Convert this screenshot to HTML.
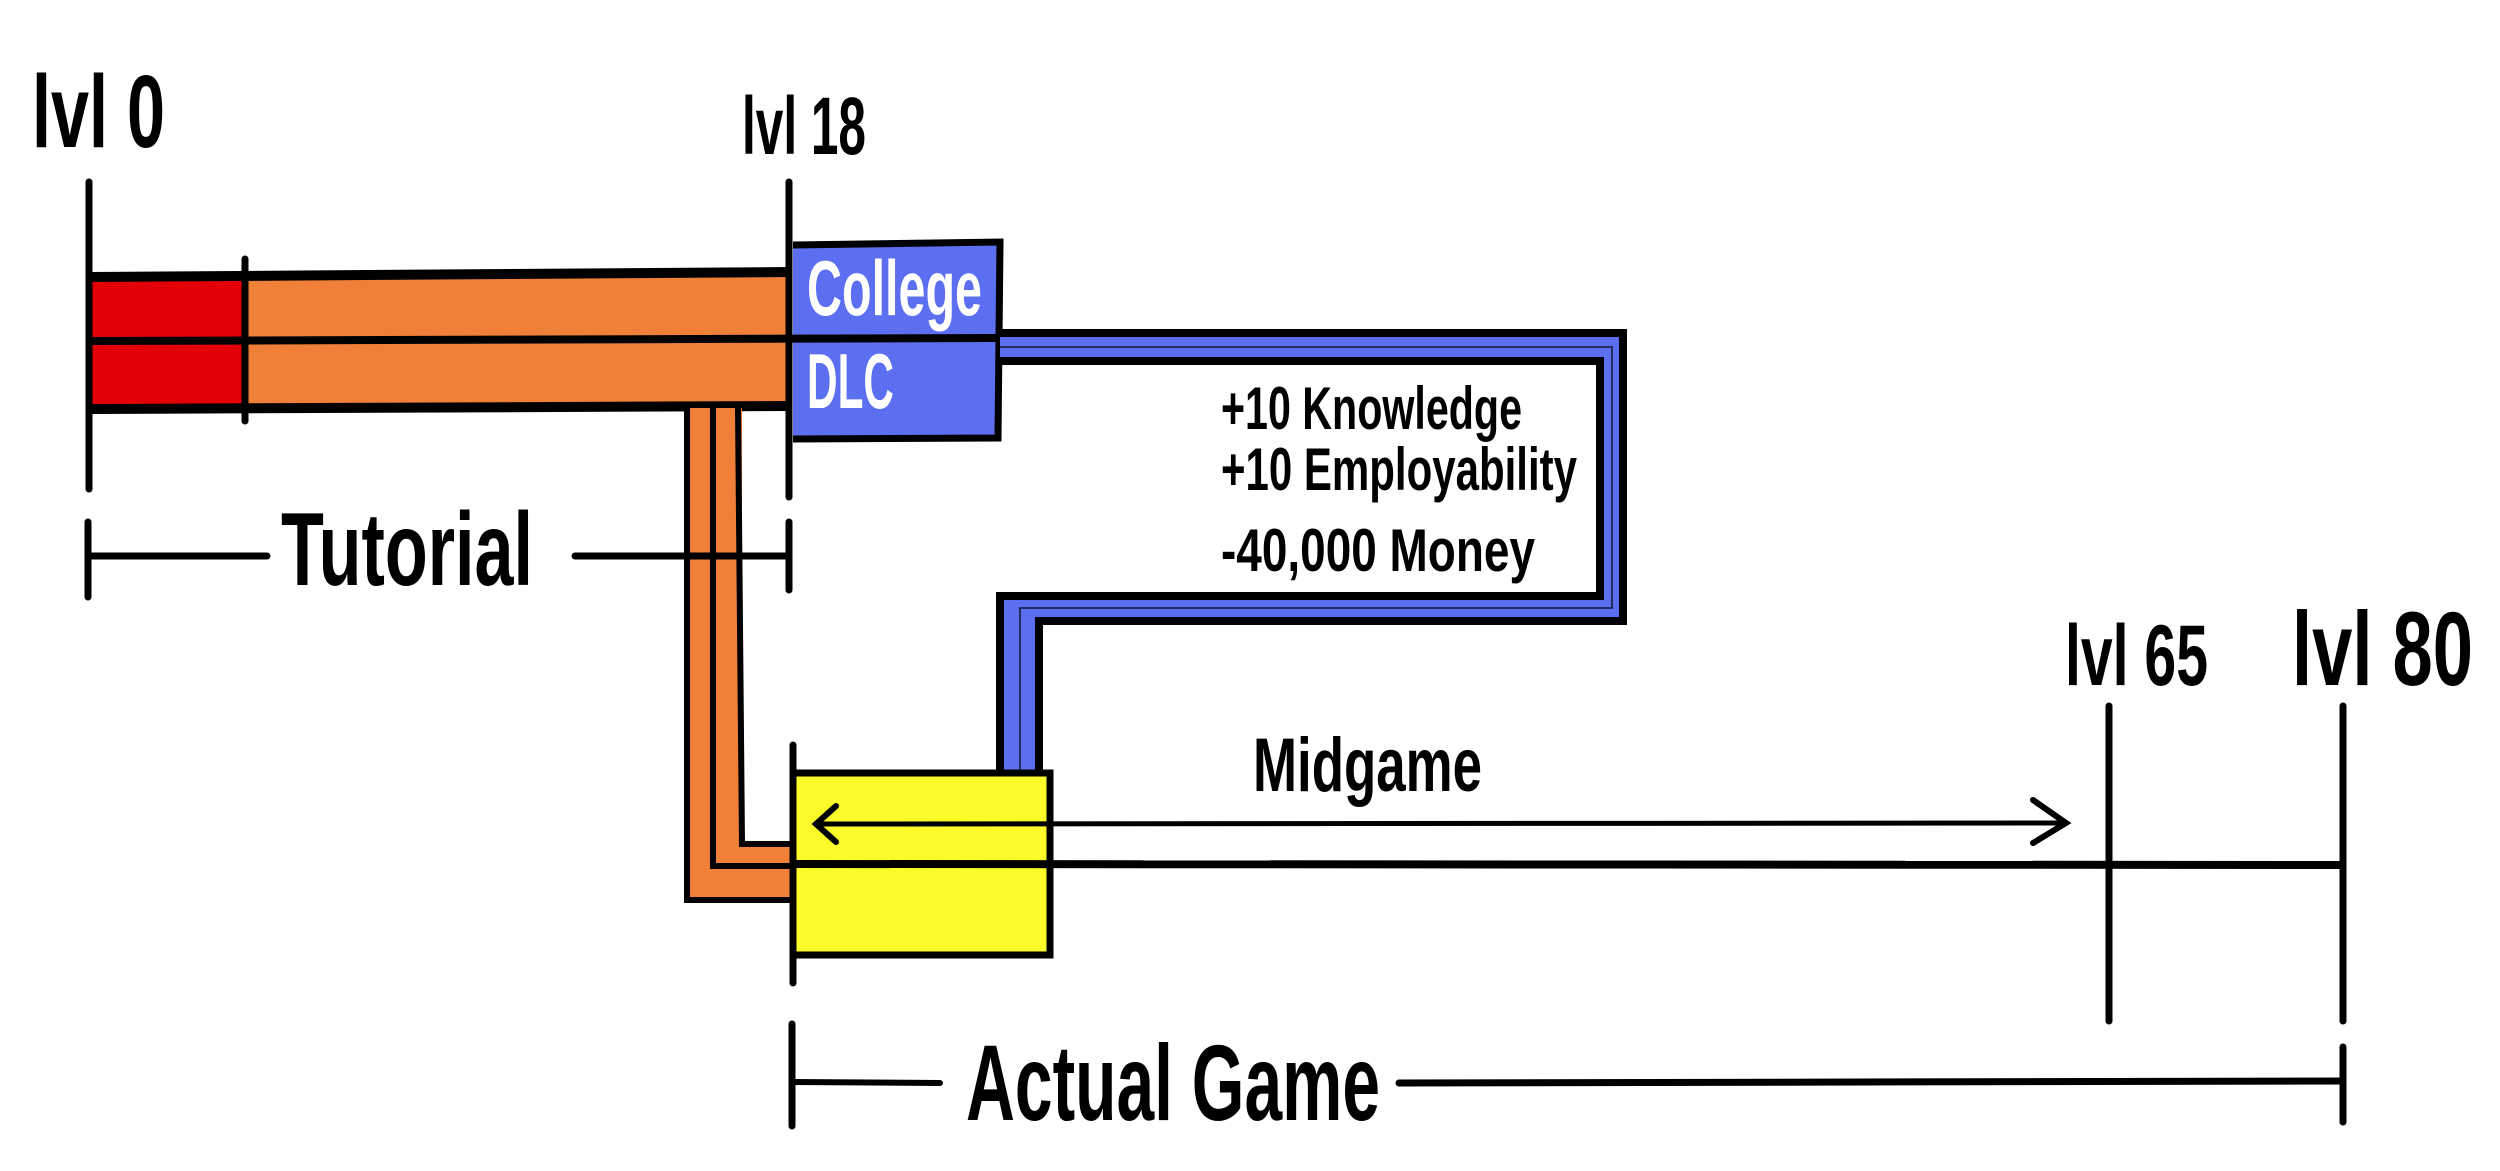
<!DOCTYPE html>
<html><head><meta charset="utf-8"><style>
html,body{margin:0;padding:0;background:#fff;}
svg{display:block;}
text{font-family:"Liberation Sans",sans-serif;font-weight:bold;}
</style></head><body>
<svg width="2500" height="1171" viewBox="0 0 2500 1171" xmlns="http://www.w3.org/2000/svg">
<rect width="2500" height="1171" fill="#fff"/>
<!-- bars -->
<rect x="89" y="280" width="154" height="128" fill="#e30006"/>
<polygon points="245,280 790,276 790,404 245,408" fill="#f07f38"/>
<!-- blue box -->
<polygon points="793,245 1000,242 998,438 793,439" fill="#5b6ff0"/>
<polyline points="793,245 1000,242 998,438 793,439" fill="none" stroke="#000" stroke-width="7"/>
<line x1="89" y1="277" x2="790" y2="272" stroke="#000" stroke-width="10"/>
<line x1="89" y1="341" x2="998" y2="338" stroke="#000" stroke-width="8"/>
<line x1="89" y1="409" x2="790" y2="406" stroke="#000" stroke-width="10"/>
<line x1="245" y1="259" x2="245" y2="421" stroke="#000" stroke-width="7" stroke-linecap="round"/>
<!-- orange pipe -->
<polygon points="687,408 742,408 742,844 793,844 793,900 687,900" fill="#f07f38"/>
<polyline points="687,408 687,900 793,900" fill="none" stroke="#000" stroke-width="6"/>
<polyline points="713,408 713,866 793,866" fill="none" stroke="#000" stroke-width="6"/>
<polyline points="738,408 742,844 793,844" fill="none" stroke="#000" stroke-width="6"/>
<!-- blue pipe -->
<polygon points="1000,333 1623,333 1623,621 1039,621 1039,773 1000,773 1000,596 1600,596 1600,361 1000,361" fill="#5b6ff0"/>
<polyline points="1000,333 1623,333 1623,621 1039,621 1039,773" fill="none" stroke="#000" stroke-width="8"/>
<polyline points="1000,361 1600,361 1600,596 1000,596 1000,773" fill="none" stroke="#000" stroke-width="8"/>
<polyline points="1000,347 1612,347 1612,608 1020,608 1020,773" fill="none" stroke="#000" stroke-width="2" opacity="0.6"/>
<!-- yellow box -->
<rect x="793" y="773" width="257" height="182" fill="#fbfb2a" stroke="#000" stroke-width="7"/>
<!-- level lines -->
<line x1="89" y1="182" x2="89" y2="489" stroke="#000" stroke-width="7" stroke-linecap="round"/>
<line x1="789" y1="182" x2="789" y2="497" stroke="#000" stroke-width="7" stroke-linecap="round"/>
<line x1="789" y1="522" x2="789" y2="590" stroke="#000" stroke-width="7" stroke-linecap="round"/>
<line x1="793" y1="745" x2="793" y2="983" stroke="#000" stroke-width="7" stroke-linecap="round"/>
<line x1="2109" y1="706" x2="2109" y2="1021" stroke="#000" stroke-width="7" stroke-linecap="round"/>
<line x1="2343" y1="706" x2="2343" y2="1021" stroke="#000" stroke-width="7" stroke-linecap="round"/>
<!-- main line -->
<line x1="793" y1="864" x2="2343" y2="865" stroke="#000" stroke-width="8"/>
<!-- midgame arrow -->
<line x1="816" y1="824" x2="2066" y2="823" stroke="#000" stroke-width="5"/>
<polyline points="836,806 816,824 836,842" fill="none" stroke="#000" stroke-width="6" stroke-linecap="round"/>
<polyline points="2033,800 2066,823 2033,843" fill="none" stroke="#000" stroke-width="6" stroke-linecap="round"/>
<!-- tutorial bracket -->
<line x1="88" y1="522" x2="88" y2="597" stroke="#000" stroke-width="7" stroke-linecap="round"/>
<line x1="88" y1="556" x2="267" y2="556" stroke="#000" stroke-width="7" stroke-linecap="round"/>
<line x1="575" y1="556" x2="789" y2="556" stroke="#000" stroke-width="7" stroke-linecap="round"/>
<!-- actual game bracket -->
<line x1="792" y1="1024" x2="792" y2="1126" stroke="#000" stroke-width="7" stroke-linecap="round"/>
<line x1="792" y1="1082" x2="940" y2="1083" stroke="#000" stroke-width="6" stroke-linecap="round"/>
<line x1="1399" y1="1083" x2="2343" y2="1081" stroke="#000" stroke-width="7" stroke-linecap="round"/>
<line x1="2343" y1="1047" x2="2343" y2="1122" stroke="#000" stroke-width="7" stroke-linecap="round"/>
<!-- texts -->
<text x="32" y="147" font-size="103" textLength="133" lengthAdjust="spacingAndGlyphs">lvl 0</text>
<text x="742" y="154" font-size="82" textLength="124" lengthAdjust="spacingAndGlyphs">lvl 18</text>
<text x="281" y="585" font-size="104" textLength="252" lengthAdjust="spacingAndGlyphs">Tutorial</text>
<text x="807" y="315" font-size="78" fill="#fff" textLength="175" lengthAdjust="spacingAndGlyphs">College</text>
<text x="807" y="408" font-size="78" fill="#fff" textLength="87" lengthAdjust="spacingAndGlyphs">DLC</text>
<text x="1221" y="429" font-size="60" textLength="301" lengthAdjust="spacingAndGlyphs">+10 Knowledge</text>
<text x="1221" y="490" font-size="60" textLength="356" lengthAdjust="spacingAndGlyphs">+10 Employability</text>
<text x="1221" y="571" font-size="60" textLength="314" lengthAdjust="spacingAndGlyphs">-40,000 Money</text>
<text x="1253" y="791" font-size="76" textLength="229" lengthAdjust="spacingAndGlyphs">Midgame</text>
<text x="2065" y="685" font-size="86" textLength="143" lengthAdjust="spacingAndGlyphs">lvl 65</text>
<text x="2292" y="685" font-size="105" textLength="181" lengthAdjust="spacingAndGlyphs">lvl 80</text>
<text x="966" y="1120" font-size="108" textLength="414" lengthAdjust="spacingAndGlyphs">Actual Game</text>
</svg>
</body></html>
